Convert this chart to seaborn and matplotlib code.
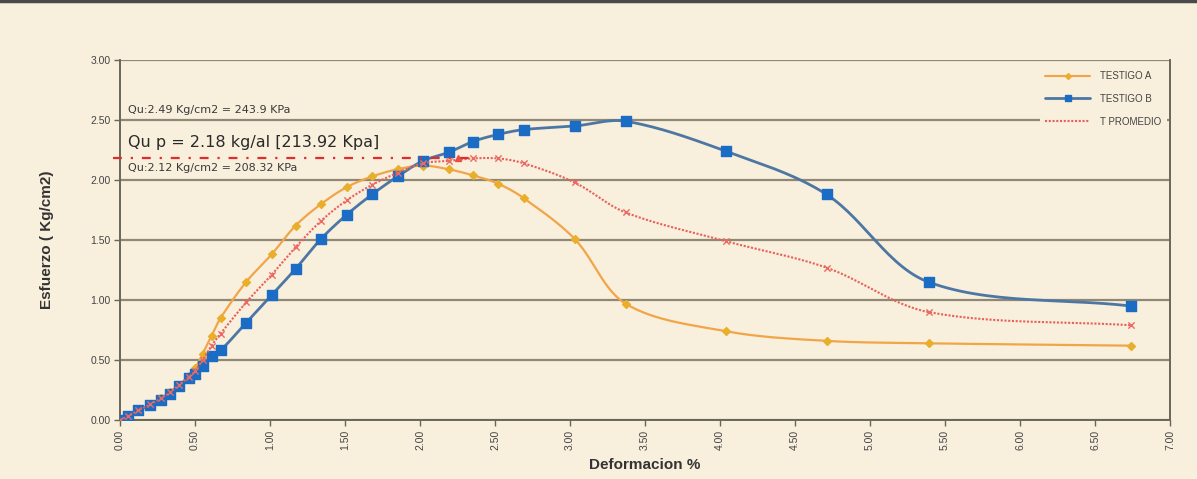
import numpy as np
import matplotlib
matplotlib.use("Agg")
import matplotlib.pyplot as plt
from matplotlib.lines import Line2D
import seaborn as sns

# Deformation (%) readings shared by both specimens
deformacion = [0.00, 0.05, 0.12, 0.20, 0.27, 0.33, 0.39, 0.46, 0.50, 0.55,
               0.61, 0.67, 0.84, 1.01, 1.17, 1.34, 1.51, 1.68, 1.85, 2.02,
               2.19, 2.35, 2.52, 2.69, 3.03, 3.37, 4.04, 4.71, 5.39, 6.74]

# Stress (Kg/cm2) for each specimen
testigo_a = [0.00, 0.03, 0.08, 0.13, 0.18, 0.23, 0.29, 0.37, 0.43, 0.55,
             0.70, 0.85, 1.15, 1.38, 1.62, 1.80, 1.94, 2.03, 2.09, 2.12,
             2.09, 2.04, 1.97, 1.85, 1.51, 0.97, 0.74, 0.66, 0.64, 0.62]
testigo_b = [0.00, 0.03, 0.08, 0.125, 0.17, 0.22, 0.28, 0.35, 0.38, 0.45,
             0.53, 0.58, 0.81, 1.04, 1.26, 1.51, 1.71, 1.88, 2.03, 2.16,
             2.23, 2.32, 2.38, 2.42, 2.45, 2.49, 2.24, 1.88, 1.15, 0.95]
t_promedio = [0.00, 0.03, 0.08, 0.13, 0.18, 0.23, 0.29, 0.36, 0.41, 0.50,
              0.62, 0.72, 0.98, 1.21, 1.44, 1.66, 1.83, 1.96, 2.06, 2.14,
              2.16, 2.18, 2.18, 2.14, 1.98, 1.73, 1.49, 1.27, 0.90, 0.79]

series_names = ["TESTIGO A", "TESTIGO B", "T PROMEDIO"]
qu_promedio = 2.18
qu_promedio_end = 2.33
annotations = ["Qu:2.49 Kg/cm2 = 243.9 KPa",
               "Qu p = 2.18 kg/al [213.92 Kpa]",
               "Qu:2.12 Kg/cm2 = 208.32 KPa"]
y_ticks = [0.0, 0.5, 1.0, 1.5, 2.0, 2.5, 3.0]
x_ticks = [0.0, 0.5, 1.0, 1.5, 2.0, 2.5, 3.0, 3.5, 4.0, 4.5, 5.0, 5.5, 6.0, 6.5, 7.0]

BG = "#f8efdc"
GRID = "#8e8874"
SPINE = "#6b665a"


def smooth_curve(x, y, n=30, sx=150.0, sy=120.0):
    """Cubic Bezier path through the points with chord-scaled tangents
    (a spreadsheet-style 'smoothed line' without large overshoots)."""
    p = np.column_stack([np.asarray(x, float) * sx, np.asarray(y, float) * sy])
    m = len(p)
    d = np.linalg.norm(np.diff(p, axis=0), axis=1)
    d[d == 0] = 1e-9
    tang = np.zeros_like(p)
    for i in range(m):
        if i == 0:
            tang[i] = p[1] - p[0]
        elif i == m - 1:
            tang[i] = p[-1] - p[-2]
        else:
            tang[i] = (p[i + 1] - p[i - 1]) / (d[i - 1] + d[i])
    t = np.linspace(0, 1, n, endpoint=False)[:, None]
    out = []
    for i in range(m - 1):
        L = d[i]
        if i == 0:
            c1 = p[i] + (p[i + 1] - p[i]) / 3
        else:
            c1 = p[i] + tang[i] * L / 3
        if i == m - 2:
            c2 = p[i + 1] - (p[i + 1] - p[i]) / 3
        else:
            c2 = p[i + 1] - tang[i + 1] * L / 3
        seg = ((1 - t) ** 3) * p[i] + 3 * ((1 - t) ** 2) * t * c1 + \
            3 * (1 - t) * t ** 2 * c2 + t ** 3 * p[i + 1]
        out.append(seg)
    out.append(p[-1][None, :])
    out = np.vstack(out)
    return out[:, 0] / sx, out[:, 1] / sy


sns.set_theme(style="white")
plt.rcParams["font.family"] = ["Liberation Sans", "DejaVu Sans"]

fig = plt.figure(figsize=(11.97, 4.79), dpi=100, facecolor=BG)
ax = fig.add_axes([0.1003, 0.123, 0.8772, 0.7517])
ax.set_facecolor(BG)

# horizontal grid
for yv in y_ticks:
    ax.axhline(yv, color=GRID, lw=1.6, zorder=1)

styles = [
    dict(data=testigo_a, color="#f2a548", mcolor="#e9ae2a", marker="D", ms=4, ls="-", lw=1.6),
    dict(data=testigo_b, color="#4d77a3", mcolor="#1a6cc4", marker="s", ms=7.5, ls="-", lw=2.0),
    dict(data=t_promedio, color="#e8605a", mcolor="#ec6a64", marker="x", ms=4.5, ls=(0, (1, 0.8)), lw=1.5),
]
zorders = [3, 4, 5]
for st, z in zip(styles, zorders):
    sx, sy = smooth_curve(deformacion, st["data"])
    sns.lineplot(x=sx, y=sy, sort=False, estimator=None, ax=ax, color=st["color"],
                 lw=st["lw"], linestyle=st["ls"], zorder=z)
    sns.scatterplot(x=deformacion, y=st["data"], ax=ax, marker=st["marker"],
                    s=st["ms"] ** 2, color=st["mcolor"],
                    edgecolor=st["mcolor"] if st["marker"] != "x" else None,
                    linewidth=1.0, zorder=z + 0.5)

# average unconfined strength reference
ax.plot([-0.05, qu_promedio_end], [qu_promedio, qu_promedio], color="#e02c2c", lw=1.6,
        linestyle=(0, (4, 4, 1, 4)), zorder=6, clip_on=False)
ax.plot([qu_promedio_end - 0.08], [qu_promedio], marker="^", color="#e8503a", ms=5, zorder=6)

ax.text(0.05, 2.585, annotations[0], fontsize=8, color="#3a3a3a", va="center", zorder=7,
        family="DejaVu Sans")
ax.text(0.05, 2.31, annotations[1], fontsize=11.5, color="#2a2a2a", va="center", zorder=7,
        family="DejaVu Sans")
ax.text(0.05, 2.10, annotations[2], fontsize=8, color="#3a3a3a", va="center", zorder=7,
        family="DejaVu Sans")

ax.set_xlim(0, 7)
ax.set_ylim(0, 3)
ax.set_xticks(x_ticks)
ax.set_xticklabels([f"{v:.2f}" for v in x_ticks], rotation=90, fontsize=7.5, color="#444444")
ax.set_yticks(y_ticks)
ax.set_yticklabels([f"{v:.2f}" for v in y_ticks], fontsize=7.5, color="#444444")
ax.tick_params(axis="both", direction="out", length=4, width=1, color=SPINE, pad=3,
               left=True, bottom=True)

for side in ["left", "bottom", "right"]:
    ax.spines[side].set_visible(True)
    ax.spines[side].set_color(SPINE)
    ax.spines[side].set_linewidth(1.4)
ax.spines["top"].set_visible(False)

ax.set_xlabel("Deformacion %", fontsize=11, fontweight="bold", color="#333333", labelpad=6)
ax.set_ylabel("Esfuerzo ( Kg/cm2)", fontsize=11, fontweight="bold", color="#333333", labelpad=26)

handles = [
    Line2D([], [], color=styles[0]["color"], marker="D", ms=3, mfc=styles[0]["mcolor"],
           mec=styles[0]["mcolor"], lw=1.5),
    Line2D([], [], color=styles[1]["color"], marker="s", ms=4, mfc=styles[1]["mcolor"],
           mec=styles[1]["mcolor"], lw=2),
    Line2D([], [], color=styles[2]["color"], lw=1.5, linestyle=(0, (1, 0.8))),
]
leg = ax.legend(handles, series_names, loc="upper right", bbox_to_anchor=(0.997, 0.985),
                frameon=True, facecolor=BG, edgecolor="none", framealpha=1,
                fontsize=7, handlelength=4.6, handletextpad=1.0, labelspacing=1.3,
                borderpad=0.6, borderaxespad=0)
leg.set_zorder(8)
for t in leg.get_texts():
    t.set_color("#444444")

# dark rule along the top edge of the figure
fig.add_artist(Line2D([0, 1], [0.997, 0.997], transform=fig.transFigure, color="#4a4a4a", lw=2.5))

fig.savefig("out.png", dpi=100, facecolor=BG)
